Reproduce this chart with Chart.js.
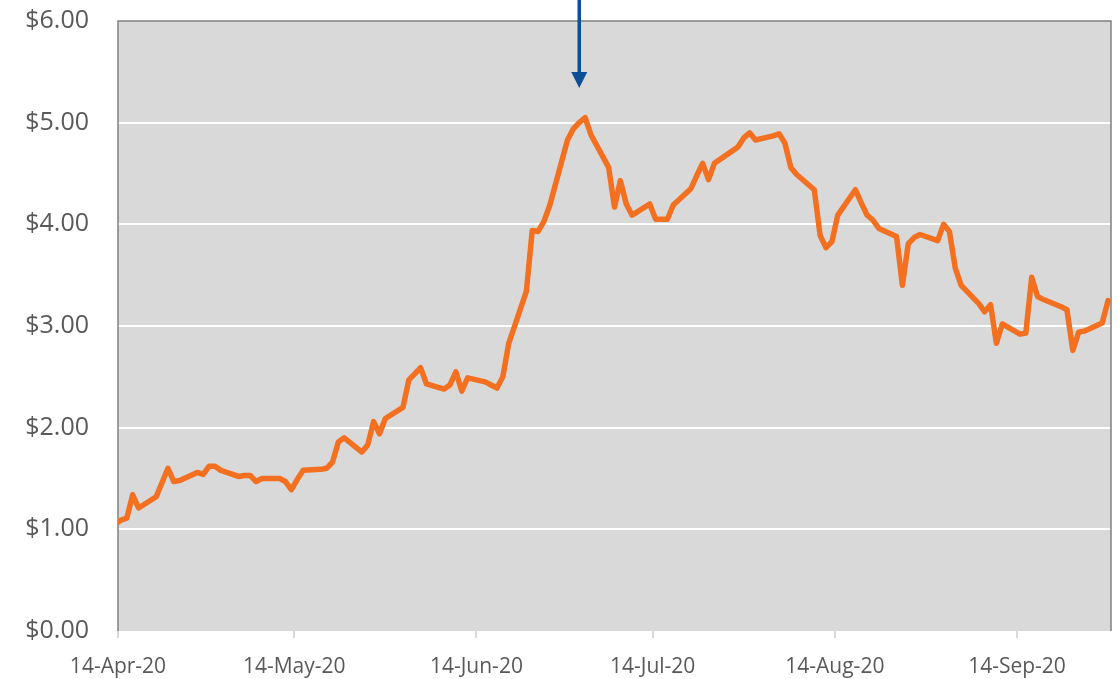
<!DOCTYPE html>
<html>
<head>
<meta charset="utf-8">
<script src="https://cdn.jsdelivr.net/npm/chart.js@4.4.1/dist/chart.umd.min.js"></script>
<style>
  html, body { margin: 0; padding: 0; background: #fff; }
  #wrap { width: 1119px; height: 679px; }
</style>
</head>
<body>
<div id="wrap"><canvas id="priceChart"></canvas></div>
<script>
// Daily prices (trading days)
const dates = [
  '2020-04-13', '2020-04-14', '2020-04-15', '2020-04-16', '2020-04-17',
  '2020-04-20', '2020-04-21', '2020-04-22', '2020-04-23', '2020-04-24',
  '2020-04-27', '2020-04-28', '2020-04-29', '2020-04-30', '2020-05-01',
  '2020-05-04', '2020-05-05', '2020-05-06', '2020-05-07', '2020-05-08',
  '2020-05-11', '2020-05-12', '2020-05-13', '2020-05-14', '2020-05-15',
  '2020-05-18', '2020-05-19', '2020-05-20', '2020-05-21', '2020-05-22',
  '2020-05-25', '2020-05-26', '2020-05-27', '2020-05-28', '2020-05-29',
  '2020-06-01', '2020-06-02', '2020-06-03', '2020-06-04', '2020-06-05',
  '2020-06-08', '2020-06-09', '2020-06-10', '2020-06-11', '2020-06-12',
  '2020-06-15', '2020-06-16', '2020-06-17', '2020-06-18', '2020-06-19',
  '2020-06-22', '2020-06-23', '2020-06-24', '2020-06-25', '2020-06-26',
  '2020-06-29', '2020-06-30', '2020-07-01', '2020-07-02', '2020-07-03',
  '2020-07-06', '2020-07-07', '2020-07-08', '2020-07-09', '2020-07-10',
  '2020-07-13', '2020-07-14', '2020-07-15', '2020-07-16', '2020-07-17',
  '2020-07-20', '2020-07-21', '2020-07-22', '2020-07-23', '2020-07-24',
  '2020-07-27', '2020-07-28', '2020-07-29', '2020-07-30', '2020-07-31',
  '2020-08-03', '2020-08-04', '2020-08-05', '2020-08-06', '2020-08-07',
  '2020-08-10', '2020-08-11', '2020-08-12', '2020-08-13', '2020-08-14',
  '2020-08-17', '2020-08-18', '2020-08-19', '2020-08-20', '2020-08-21',
  '2020-08-24', '2020-08-25', '2020-08-26', '2020-08-27', '2020-08-28',
  '2020-08-31', '2020-09-01', '2020-09-02', '2020-09-03', '2020-09-04',
  '2020-09-07', '2020-09-08', '2020-09-09', '2020-09-10', '2020-09-11',
  '2020-09-14', '2020-09-15', '2020-09-16', '2020-09-17', '2020-09-18',
  '2020-09-21', '2020-09-22', '2020-09-23', '2020-09-24', '2020-09-25',
  '2020-09-28', '2020-09-29'
];
const prices = [
  1.05, 1.09, 1.11, 1.34, 1.21,
  1.32, 1.46, 1.60, 1.47, 1.48,
  1.56, 1.54, 1.62, 1.62, 1.58,
  1.52, 1.53, 1.53, 1.47, 1.50,
  1.50, 1.47, 1.39, 1.49, 1.58,
  1.59, 1.60, 1.66, 1.86, 1.90,
  1.76, 1.83, 2.06, 1.94, 2.09,
  2.20, 2.47, 2.53, 2.59, 2.43,
  2.38, 2.42, 2.55, 2.36, 2.49,
  2.45, 2.42, 2.39, 2.50, 2.83,
  3.34, 3.94, 3.93, 4.03, 4.19,
  4.83, 4.94, 5.00, 5.05, 4.88,
  4.56, 4.17, 4.43, 4.20, 4.09,
  4.20, 4.05, 4.05, 4.05, 4.19,
  4.35, 4.48, 4.60, 4.44, 4.60,
  4.72, 4.76, 4.85, 4.90, 4.83,
  4.87, 4.89, 4.80, 4.56, 4.49,
  4.34, 3.89, 3.77, 3.83, 4.09,
  4.34, 4.21, 4.09, 4.04, 3.96,
  3.88, 3.40, 3.81, 3.87, 3.90,
  3.84, 4.00, 3.93, 3.57, 3.40,
  3.22, 3.14, 3.21, 2.83, 3.02,
  2.92, 2.93, 3.48, 3.29, 3.26,
  3.19, 3.16, 2.76, 2.94, 2.95,
  3.03, 3.25
];

const startDate = '2020-04-14';
const endDate = '2020-09-29';
const tickDates = ['2020-04-14', '2020-05-14', '2020-06-14', '2020-07-14', '2020-08-14', '2020-09-14'];
const tickLabels = ['14-Apr-20', '14-May-20', '14-Jun-20', '14-Jul-20', '14-Aug-20', '14-Sep-20'];
const yTicks = [0, 1, 2, 3, 4, 5, 6];

// arrow marking the peak
const arrowDate = '2020-07-01';
const arrowTip = 5.34;

function dayOf(s) {
  const p = s.split('-').map(Number);
  const base = startDate.split('-').map(Number);
  return (Date.UTC(p[0], p[1] - 1, p[2]) - Date.UTC(base[0], base[1] - 1, base[2])) / 86400000;
}

const points = dates.map((d, i) => ({ x: dayOf(d), y: prices[i] }));

const plotBackground = {
  id: 'plotBackground',
  beforeDraw(chart) {
    const { ctx, chartArea: a } = chart;
    ctx.save();
    ctx.fillStyle = '#d9d9d9';
    ctx.fillRect(a.left, a.top, a.right - a.left, a.bottom - a.top);
    ctx.restore();
  },
  beforeDatasetsDraw(chart) {
    const { ctx, chartArea: a } = chart;
    ctx.save();
    ctx.strokeStyle = '#808080';
    ctx.lineWidth = 1.5;
    ctx.beginPath();
    ctx.moveTo(a.left, a.bottom);
    ctx.lineTo(a.left, a.top);
    ctx.lineTo(a.right, a.top);
    ctx.lineTo(a.right, a.bottom);
    ctx.stroke();
    ctx.restore();
  }
};

const peakArrow = {
  id: 'peakArrow',
  afterDraw(chart) {
    const { ctx } = chart;
    const x = chart.scales.x.getPixelForValue(dayOf(arrowDate));
    const tip = chart.scales.y.getPixelForValue(arrowTip);
    ctx.save();
    ctx.strokeStyle = '#0d4f96';
    ctx.fillStyle = '#0d4f96';
    ctx.lineWidth = 3.5;
    ctx.beginPath();
    ctx.moveTo(x, 0);
    ctx.lineTo(x, tip - 14);
    ctx.stroke();
    ctx.beginPath();
    ctx.moveTo(x - 8, tip - 16);
    ctx.lineTo(x + 8, tip - 16);
    ctx.lineTo(x, tip);
    ctx.closePath();
    ctx.fill();
    ctx.restore();
  }
};

new Chart(document.getElementById('priceChart'), {
  type: 'line',
  data: {
    datasets: [{
      data: points,
      borderColor: '#f37021',
      borderWidth: 5.5,
      borderJoinStyle: 'round',
      borderCapStyle: 'round',
      pointRadius: 0,
      tension: 0,
      fill: false
    }]
  },
  options: {
    responsive: true,
    maintainAspectRatio: false,
    animation: false,
    layout: { padding: { top: 21, right: 8, left: 0, bottom: 0 } },
    plugins: {
      legend: { display: false },
      tooltip: { enabled: false }
    },
    scales: {
      x: {
        type: 'linear',
        min: dayOf(startDate) - 0.5,
        max: dayOf(endDate) + 0.5,
        afterBuildTicks: function(scale) {
          scale.ticks = tickDates.map(d => ({ value: dayOf(d) - 0.5 }));
        },
        afterFit: function(scale) {
          scale.height = 48;
          scale.paddingLeft = 0;
          scale.paddingRight = 0;
        },
        border: { display: false },
        grid: {
          drawOnChartArea: false,
          drawTicks: true,
          tickLength: 7,
          tickColor: '#d9d9d9',
          lineWidth: 2
        },
        ticks: {
          autoSkip: false,
          maxRotation: 0,
          padding: 16,
          color: '#595959',
          font: { family: 'Open Sans', size: 21 },
          callback: function(value, index) { return tickLabels[index]; }
        }
      },
      y: {
        min: 0,
        max: 6,
        afterBuildTicks: function(scale) {
          scale.ticks = yTicks.map(v => ({ value: v }));
        },
        afterFit: function(scale) {
          scale.width = 118;
          scale.paddingTop = 0;
          scale.paddingBottom = 0;
        },
        border: { display: false },
        grid: {
          drawTicks: false,
          lineWidth: 2,
          color: function(c) {
            const v = c.tick ? c.tick.value : null;
            return (v === 0 || v === 6) ? 'rgba(0,0,0,0)' : '#ffffff';
          }
        },
        ticks: {
          padding: 29,
          color: '#595959',
          font: { family: 'Open Sans', size: 25 },
          callback: function(value) { return '$' + value.toFixed(2); }
        }
      }
    }
  },
  plugins: [plotBackground, peakArrow]
});
</script>
</body>
</html>
